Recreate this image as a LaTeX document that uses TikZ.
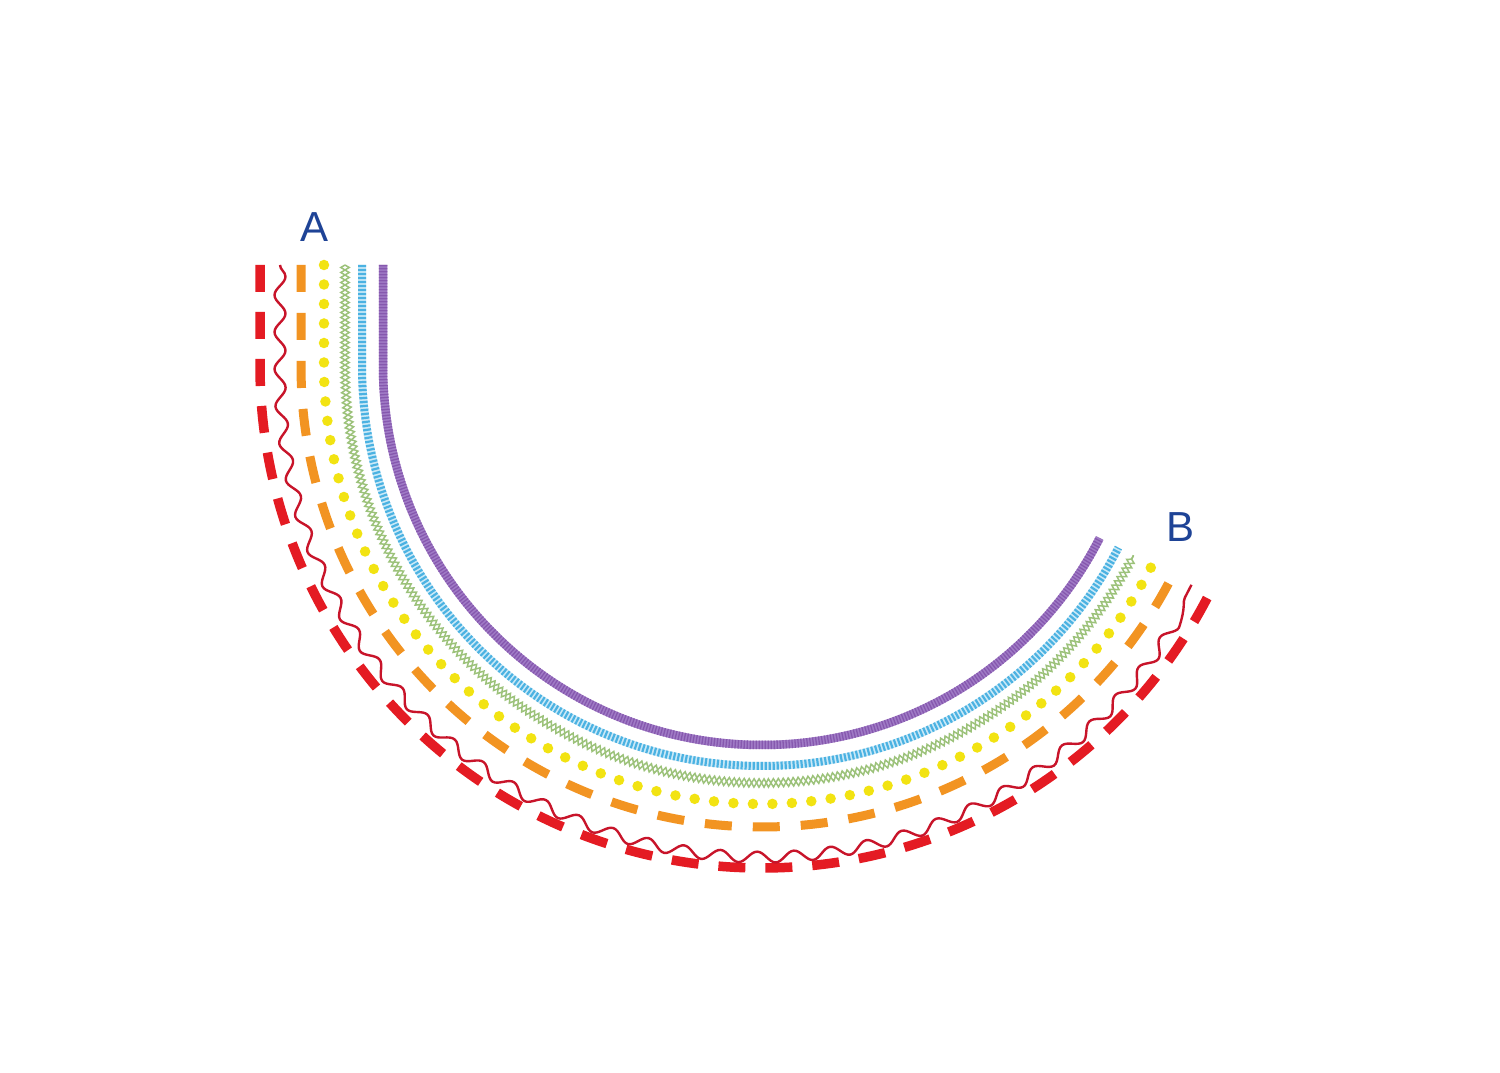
\documentclass[tikz,border=0pt]{standalone}
\usepackage{fontspec}
\setmainfont{Liberation Sans}
\usetikzlibrary{decorations.pathmorphing}
\definecolor{reddash}{HTML}{E41B23}
\definecolor{redwave}{HTML}{C8142A}
\definecolor{orangedash}{HTML}{F29422}
\definecolor{yellowdot}{HTML}{F2E312}
\definecolor{greenchain}{HTML}{9CC27A}
\definecolor{bluelad}{HTML}{4BB2E2}
\definecolor{bluelight}{HTML}{CBE9F7}
\definecolor{purpleA}{HTML}{A07BC6}
\definecolor{purpleB}{HTML}{8658AE}
\definecolor{labelblue}{HTML}{1E4396}
\newcommand\trackpath[1]{(762-#1,807) -- (762-#1,706) arc (180:333:#1)}
\tikzset{
  redtrack/.style={draw=reddash, line width=9.5pt, dash pattern=on 27pt off 20pt},
  wavetrack/.style={draw=redwave, line width=2.4pt, decorate, decoration={snake, amplitude=5.5pt, segment length=37pt}},
  orangetrack/.style={draw=orangedash, line width=9pt, dash pattern=on 27pt off 21pt},
  dottrack/.style={draw=yellowdot, line width=10.5pt, line cap=round, dash pattern=on 0pt off 19.5pt},
  chaintrack/.style={draw=greenchain, line width=1.5pt, decorate, decoration={zigzag, amplitude=4.2pt, segment length=10pt}},
  chaintrackm/.style={draw=greenchain, line width=1.5pt, decorate, decoration={zigzag, mirror, amplitude=4.2pt, segment length=10pt}},
  ladbase/.style={draw=bluelight, line width=8pt},
  ladtrack/.style={draw=bluelad, line width=8pt, dash pattern=on 2.2pt off 1.8pt},
  purplebase/.style={draw=purpleA, line width=8.5pt},
  purpletex/.style={draw=purpleB, line width=8.5pt, dash pattern=on 1.3pt off 1.7pt},
  lab/.style={text=labelblue, font=\fontsize{42}{42}\selectfont, inner sep=0pt}
}
\begin{document}
\begin{tikzpicture}[x=1pt,y=1pt]
\useasboundingbox (0,0) rectangle (1500,1072);
\fill[white] (0,0) rectangle (1500,1072);
% outermost red dashed
\path[redtrack] \trackpath{502};
% red wavy
\path[wavetrack] \trackpath{482};
% orange dashed
\path[orangetrack] \trackpath{461};
% yellow dots
\path[dottrack] \trackpath{438};
% green chain
\path[chaintrack] \trackpath{417};
\path[chaintrackm] \trackpath{417};
% blue ladder
\path[ladbase] \trackpath{400};
\path[ladtrack] \trackpath{400};
% purple rope
\path[purplebase] \trackpath{379};
\path[purpletex] \trackpath{379};
% labels
\node[lab] (A) at (315,845) {A};
\node[lab] (B) at (1180,545) {B};
\end{tikzpicture}
\end{document}
